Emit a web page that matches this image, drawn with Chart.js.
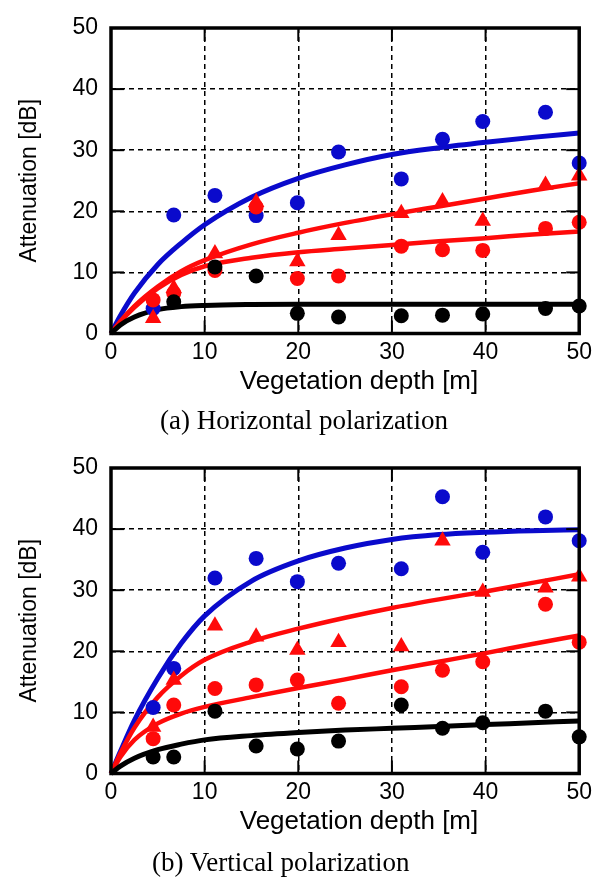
<!DOCTYPE html>
<html><head><meta charset="utf-8">
<script src="https://cdn.jsdelivr.net/npm/chart.js@4/dist/chart.umd.min.js"></script>
<style>
html,body{margin:0;padding:0;background:#fff;}
#wrap{position:relative;width:597px;height:880px;}
.cv{position:absolute;left:0;width:597px;height:400px;}
.cap{position:absolute;white-space:nowrap;font-family:"Liberation Serif","Times New Roman",serif;font-size:27px;line-height:30px;color:#000;}
.xt{position:absolute;width:400px;left:159px;text-align:center;white-space:nowrap;font-family:"Liberation Sans",Arial,sans-serif;font-size:26px;line-height:30px;color:#000;}
</style></head>
<body><div id="wrap">
<div class="cv" style="top:0"><canvas id="c1" width="597" height="400"></canvas></div>
<div class="cv" style="top:440px"><canvas id="c2" width="597" height="400"></canvas></div>
<div class="xt" style="top:365px">Vegetation depth [m]</div>
<div class="xt" style="top:805px">Vegetation depth [m]</div>
<div class="cap" style="top:405px;left:160px">(a) Horizontal polarization</div>
<div class="cap" style="top:847px;left:152px">(b) Vertical polarization</div>
</div>
<script>
// ---- data ----
const depth = [4.5, 6.7, 11.1, 15.5, 19.9, 24.3, 31.0, 35.4, 39.7, 46.4, 50.0];
const fitDepth = [0, 1, 2.5, 5, 7.5, 10, 15, 20, 25, 30, 35, 40, 45, 50];
const xTicks = [0, 10, 20, 30, 40, 50];
const yTicks = [0, 10, 20, 30, 40, 50];

// (a) Horizontal polarization
const hBlue     = [4.1, 19.4, 22.6, 19.3, 21.4, 29.7, 25.3, 31.8, 34.7, 36.2, 27.9];
const hRedCirc  = [5.5, 6.6, 10.3, 20.7, 9.0, 9.4, 14.3, 13.7, 13.6, 17.2, 18.2];
const hRedTri   = [2.5, 7.4, 13.1, 21.5, 11.8, 16.1, 19.7, 21.6, 18.4, 24.3, 25.8];
const hBlack    = [null, 5.2, 10.9, 9.4, 3.3, 2.7, 2.9, 3.0, 3.2, 4.1, 4.5];
const hBlueFit    = [0, 2.9, 6.6, 11.3, 14.8, 17.8, 22.3, 25.4, 27.6, 29.3, 30.4, 31.3, 32.1, 32.8];
const hRedTriFit  = [0, 2.0, 4.5, 7.7, 10.2, 12.0, 14.6, 16.5, 18.1, 19.5, 20.8, 22.1, 23.4, 24.6];
const hRedCircFit = [0, 1.9, 4.3, 7.4, 9.6, 11.0, 12.4, 13.3, 13.9, 14.5, 15.1, 15.6, 16.2, 16.7];
const hBlackFit   = [0, 1.4, 2.7, 3.9, 4.4, 4.6, 4.75, 4.8, 4.8, 4.8, 4.8, 4.8, 4.8, 4.8];

// (b) Vertical polarization
const vBlue     = [10.8, 17.2, 32.0, 35.2, 31.4, 34.4, 33.5, 45.3, 36.2, 42.0, 38.1];
const vRedTri   = [7.6, 15.3, 24.2, 22.4, 20.2, 21.5, 20.8, 38.1, 29.7, 30.4, 32.2];
const vRedCirc  = [5.7, 11.2, 13.9, 14.5, 15.3, 11.5, 14.2, 16.9, 18.3, 27.7, 21.5];
const vBlack    = [2.7, 2.7, 10.2, 4.5, 4.0, 5.3, 11.2, 7.4, 8.3, 10.2, 6.0];
const vBlueFit    = [0, 3.6, 8.7, 15.6, 21.3, 25.8, 31.5, 34.8, 36.9, 38.3, 39.1, 39.5, 39.75, 39.9];
const vRedTriFit  = [0, 3.3, 7.5, 12.5, 16.0, 18.6, 21.6, 23.7, 25.5, 27.1, 28.5, 29.8, 31.2, 32.6];
const vRedCircFit = [0, 2.7, 5.5, 8.2, 9.8, 10.9, 12.5, 14.0, 15.4, 16.9, 18.3, 19.7, 21.2, 22.6];
const vBlackFit   = [0, 1.2, 2.5, 3.9, 4.8, 5.5, 6.2, 6.7, 7.1, 7.4, 7.7, 8.0, 8.3, 8.6];

const BLUE = '#0a0acc', RED = '#ff0a0a', BLACK = '#000000';
const SANS = '"Liberation Sans", Arial, sans-serif';

function pts(xs, ys){ const out=[]; xs.forEach((x,i)=>{ if(ys[i]!==null && ys[i]!==undefined) out.push({x:x,y:ys[i]}); }); return out; }

function lineDs(ys, color, w){
  return {data: pts(fitDepth, ys), showLine:true, borderColor:color, backgroundColor:color,
    borderWidth:w, pointRadius:0, cubicInterpolationMode:'monotone', order:10, clip:false};
}
function markDs(ys, color, style){
  return {data: pts(depth, ys), showLine:false, borderColor:color, backgroundColor:color,
    pointStyle:style, pointRadius: style==='triangle'?9.5:7.5, borderWidth:0, order:0, clip:false};
}

const framePlugin = {
  id:'frame',
  afterDraw(chart){
    const ctx = chart.ctx, a = chart.chartArea, xs = chart.scales.x, ys = chart.scales.y;
    ctx.save();
    ctx.strokeStyle = '#000';
    ctx.lineWidth = 2;
    const L = 13;
    xTicks.forEach(v=>{
      const px = xs.getPixelForValue(v);
      ctx.beginPath(); ctx.moveTo(px, a.bottom); ctx.lineTo(px, a.bottom - L); ctx.stroke();
      ctx.beginPath(); ctx.moveTo(px, a.top); ctx.lineTo(px, a.top + L); ctx.stroke();
    });
    yTicks.forEach(v=>{
      const py = ys.getPixelForValue(v);
      ctx.beginPath(); ctx.moveTo(a.left, py); ctx.lineTo(a.left + L, py); ctx.stroke();
      ctx.beginPath(); ctx.moveTo(a.right, py); ctx.lineTo(a.right - L, py); ctx.stroke();
    });
    ctx.lineWidth = 3.5;
    ctx.strokeRect(a.left, a.top, a.right - a.left, a.bottom - a.top);
    ctx.restore();
  }
};

function makeChart(id, sets){
  const ds = [
    lineDs(sets.blackFit, BLACK, 5),
    lineDs(sets.redCircFit, RED, 4.5),
    lineDs(sets.redTriFit, RED, 4.5),
    lineDs(sets.blueFit, BLUE, 5),
    markDs(sets.black, BLACK, 'circle'),
    markDs(sets.redTri, RED, 'triangle'),
    markDs(sets.redCirc, RED, 'circle'),
    markDs(sets.blue, BLUE, 'circle')
  ];
  return new Chart(document.getElementById(id), {
    type:'scatter',
    data:{datasets:ds},
    options:{
      responsive:false, animation:false, devicePixelRatio:1,
      layout:{padding:{top:28, right:15, bottom:3, left:0}},
      plugins:{legend:{display:false}, tooltip:{enabled:false}, title:{display:false}},
      scales:{
        x:{type:'linear', min:0, max:50,
          afterBuildTicks(s){ s.ticks = xTicks.map(v=>({value:v})); },
          afterFit(s){ s.height = 63.5; },
          grid:{color:'#000', lineWidth:1.5, drawTicks:false, drawOnChartArea:true},
          border:{display:false, dash:[5,4]},
          ticks:{color:'#000', padding:5, maxRotation:0, font:{family:SANS, size:23}},
          title:{display:false}
        },
        y:{type:'linear', min:0, max:50,
          afterBuildTicks(s){ s.ticks = yTicks.map(v=>({value:v})); },
          afterFit(s){ s.width = 111; },
          grid:{color:'#000', lineWidth:1.5, drawTicks:false},
          border:{display:false, dash:[5,4]},
          ticks:{color:'#000', padding:13, font:{family:SANS, size:23}},
          title:{display:true, text:'Attenuation [dB]', color:'#000', padding:{top:16,bottom:0},
            font:{family:SANS, size:23}}
        }
      }
    },
    plugins:[framePlugin]
  });
}

makeChart('c1', {blue:hBlue, redCirc:hRedCirc, redTri:hRedTri, black:hBlack,
  blueFit:hBlueFit, redTriFit:hRedTriFit, redCircFit:hRedCircFit, blackFit:hBlackFit});
makeChart('c2', {blue:vBlue, redCirc:vRedCirc, redTri:vRedTri, black:vBlack,
  blueFit:vBlueFit, redTriFit:vRedTriFit, redCircFit:vRedCircFit, blackFit:vBlackFit});
</script>
</body></html>
